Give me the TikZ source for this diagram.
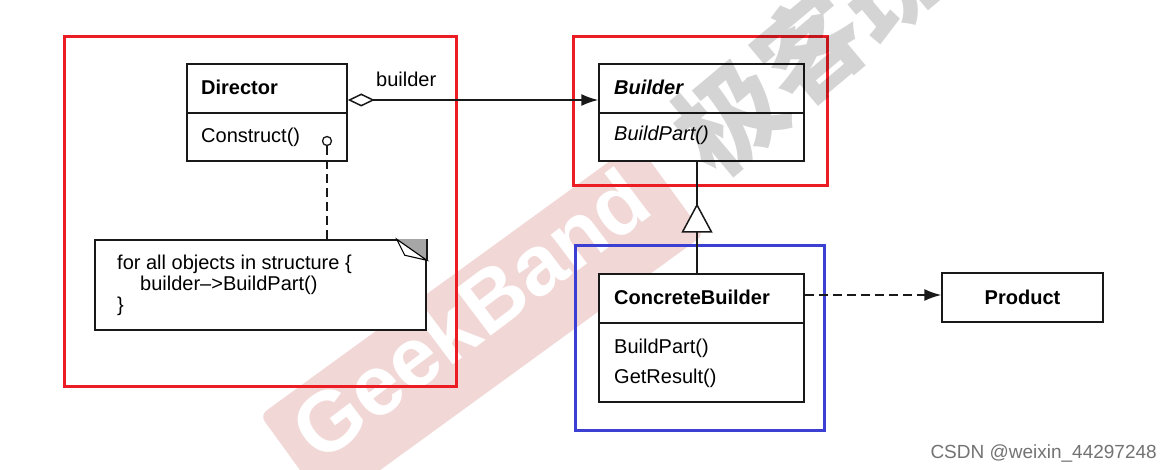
\documentclass[tikz,border=0pt]{standalone}
\usepackage{fontspec}
\setmainfont{Liberation Sans}
\newfontfamily\cjkfont{Noto Sans CJK SC}
\usetikzlibrary{arrows.meta}
\definecolor{boxred}{RGB}{236,28,36}
\definecolor{boxblue}{RGB}{60,64,210}
\definecolor{wmpink}{RGB}{241,216,214}
\begin{document}
\begin{tikzpicture}[x=1pt,y=-1pt,
  cls/.style={draw=black!90,line width=1.5pt,fill=white,inner sep=0pt},
  lbl/.style={inner sep=0pt,anchor=base west,font=\fontsize{20}{21}\selectfont},
  bl/.style={inner sep=0pt,anchor=base west,font=\bfseries\fontsize{20}{21}\selectfont},
  frame/.style={line width=3pt,inner sep=0pt},
  conn/.style={line width=1.5pt,draw=black!90},
  dashconn/.style={conn,dash pattern=on 9pt off 5pt},
]
\useasboundingbox (0,0) rectangle (1173,470);
\fill[white] (0,0) rectangle (1173,470);

% watermark ribbon
\node[fill=wmpink,rotate=36,minimum width=465,minimum height=115,rounded corners=8pt,inner sep=0pt] (ribbon) at (482,325) {};
\node[rotate=37,text=white,font=\bfseries\fontsize{85}{85}\selectfont,inner sep=0pt] (geek) at (470,314) {GeekBand};

% frames
\node[draw=boxred,frame,minimum width=392,minimum height=349] (f1) at (260,211.5) {};
\node[draw=boxred,frame,minimum width=254,minimum height=149] (f2) at (700,111.5) {};
\node[draw=boxblue,frame,minimum width=249,minimum height=184] (f3) at (699.5,338) {};

% Director
\node[cls,minimum width=160,minimum height=97] (dir) at (267,112.5) {};
\draw[conn] ([yshift=-0.5pt]dir.west) -- ([yshift=-0.5pt]dir.east);
\node[bl] (dirname) at (201,95) {Director};
\node[lbl] (dirop) at (201,143) {Construct()};

% Builder
\node[cls,minimum width=205,minimum height=97] (bld) at (701.5,112.5) {};
\draw[conn] ([yshift=-0.5pt]bld.west) -- ([yshift=-0.5pt]bld.east);
\node[bl,font=\bfseries\itshape\fontsize{20}{21}\selectfont] (bldname) at (614,95) {Builder};
\node[lbl,font=\itshape\fontsize{20}{21}\selectfont] (bldop) at (614,141) {BuildPart()};

% ConcreteBuilder
\node[cls,minimum width=205,minimum height=128] (cb) at (701.5,338) {};
\draw[conn] ([yshift=15pt]cb.west) -- ([yshift=15pt]cb.east);
\node[bl] (cbname) at (614,305) {ConcreteBuilder};
\node[lbl] (cbop1) at (614,354) {BuildPart()};
\node[lbl] (cbop2) at (614,383) {GetResult()};

% Product
\node[cls,minimum width=161,minimum height=49,font=\bfseries\fontsize{20}{21}\selectfont] (prod) at (1022.5,297.5) {Product};

% Note
\node[cls,minimum width=331,minimum height=90] (note) at (260.5,285) {};
\fill[black!35] (note.north east) -- ++(-30,0) -- ++(30,21) -- cycle;
\draw[line width=1.1pt,fill=white] ([xshift=-30pt]note.north east) -- ++(8,16) -- ++(22,5) -- cycle;
\draw[line width=1.5pt,draw=black!90] (note.north east) -- ++(0,21);
\node[lbl] (n1) at (117,270) {for all objects in structure \{};
\node[lbl] (n2) at (140,291) {builder\textendash{}>BuildPart()};
\node[lbl] (n3) at (117,312) {\}};

% note anchor
\node[draw=black!90,circle,minimum size=9pt,inner sep=0pt,line width=1.3pt,fill=white] (knob) at (327,141) {};
\draw[dashconn] (knob.south) -- (note.north -| knob);

% aggregation
\draw[conn,{Diamond[open,length=27pt,width=13pt]}-{Latex[length=17pt,width=12pt]}] ([yshift=12.5pt]dir.east) -- ([yshift=12.5pt]bld.west);
\node[lbl] (role) at (376,87) {builder};

% inheritance
\coordinate (triA) at (697,205);
\coordinate (triB) at (697,232);
\draw[conn] (bld.south -| triA) -- (triA);
\draw[conn,fill=white,line join=miter] (triA) -- ++(-14.5,27) -- ++(29,0) -- cycle;
\draw[conn] (triB) -- (cb.north -| triB);

% dependency
\draw[dashconn,-{Latex[length=17pt,width=12pt]}] ([yshift=43pt]cb.east) -- ([yshift=2.5pt]prod.west);

% watermark characters
\node[rotate=40,text=black,opacity=0.17,font=\cjkfont\bfseries\fontsize{105}{105}\selectfont,inner sep=0pt] (jkb) at (810,48) {极客班};

% credit
\node[anchor=base east,text=black!55,font=\fontsize{19}{19}\selectfont,inner sep=0pt] (csdn) at (1157,458) {CSDN @weixin\_44297248};
\end{tikzpicture}
\end{document}
